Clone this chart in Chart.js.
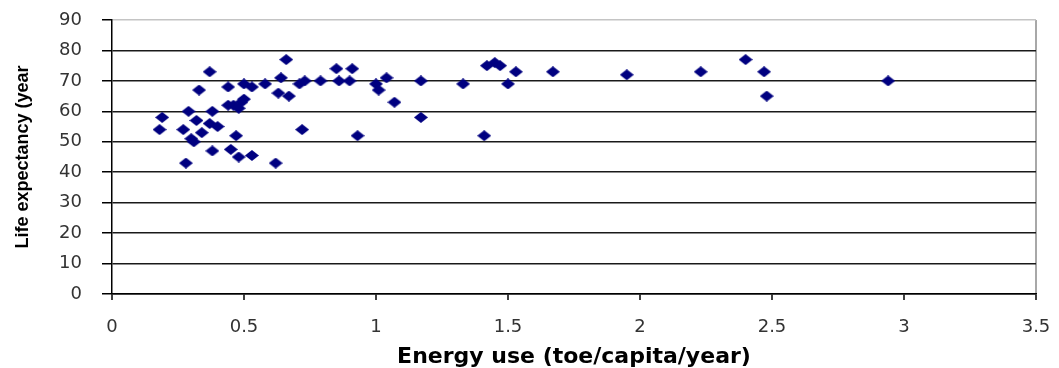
<!DOCTYPE html>
<html>
<head>
<meta charset="utf-8">
<title>Life expectancy vs energy use</title>
<script src="https://cdn.jsdelivr.net/npm/chart.js@4/dist/chart.umd.min.js"></script>
<style>
  html, body { margin: 0; padding: 0; background: #fff; }
  #wrap { width: 1059px; height: 368px; }
</style>
</head>
<body>
<div id="wrap"><canvas id="chart" width="1059" height="368"></canvas></div>
<script>
// energy use (toe/capita/year) and life expectancy (years)
const energyUse = [
  0.19, 0.18, 0.27, 0.28, 0.29, 0.32, 0.30, 0.31, 0.34, 0.33,
  0.37, 0.38, 0.37, 0.40, 0.38, 0.45, 0.47, 0.48, 0.53, 0.62,
  0.44, 0.44, 0.46, 0.48, 0.50, 0.49, 0.50, 0.53, 0.58, 0.66,
  0.64, 0.63, 0.67, 0.72, 0.71, 0.73, 0.79, 0.85, 0.86, 0.91,
  0.90, 0.93, 1.00, 1.01, 1.04, 1.07, 1.17, 1.17, 1.33, 1.41,
  1.42, 1.45, 1.47, 1.50, 1.53, 1.67, 1.95, 2.23, 2.40, 2.47,
  2.48, 2.94
];
const lifeExpectancy = [
  58, 54, 54, 43, 60, 57, 51, 50, 53, 67,
  73, 60, 56, 55, 47, 47.5, 52, 45, 45.5, 43,
  68, 62, 62, 61, 64, 63, 69, 68, 69, 77,
  71, 66, 65, 54, 69, 70, 70, 74, 70, 74,
  70, 52, 69, 67, 71, 63, 70, 58, 69, 52,
  75, 76, 75, 69, 73, 73, 72, 73, 77, 73,
  65, 70
];
const xTickLabels = ["0", "0.5", "1", "1.5", "2", "2.5", "3", "3.5"];
const yTickLabels = ["0", "10", "20", "30", "40", "50", "60", "70", "80", "90"];

const points = energyUse.map((x, i) => ({ x: x, y: lifeExpectancy[i] }));

// excel style diamond, a bit wider than tall
function makeDiamond(w, h, color) {
  const c = document.createElement("canvas");
  c.width = w;
  c.height = h;
  const g = c.getContext("2d");
  g.fillStyle = color;
  g.beginPath();
  g.moveTo(w / 2, 0);
  g.lineTo(w, h / 2);
  g.lineTo(w / 2, h);
  g.lineTo(0, h / 2);
  g.closePath();
  g.fill();
  return c;
}

const diamond = makeDiamond(14, 11, "#000080");
const tickFont = "'DejaVu Sans', Verdana, sans-serif";
const titleFont = "'Liberation Sans', Arial, sans-serif";

new Chart(document.getElementById("chart"), {
  type: "scatter",
  data: {
    datasets: [{
      label: "Countries",
      data: points,
      pointStyle: diamond,
      backgroundColor: "#000080",
      borderColor: "#000080"
    }]
  },
  options: {
    responsive: false,
    animation: false,
    layout: { padding: { left: 0, top: 20, right: 23, bottom: 0 } },
    plugins: {
      legend: { display: false },
      tooltip: { enabled: false }
    },
    scales: {
      x: {
        type: "linear",
        min: 0,
        max: 3.5,
        afterFit: (axis) => {
          axis.height = 74;
          axis.paddingLeft = 0;
          axis.paddingRight = 0;
        },
        afterBuildTicks: (axis) => {
          axis.ticks = xTickLabels.map(v => ({ value: parseFloat(v) }));
        },
        border: { display: true, color: "#000", width: 1.5 },
        grid: {
          drawOnChartArea: true,
          color: (ctx) => ctx.tick && ctx.tick.value === 3.5 ? "#a8a8a8" : "rgba(0,0,0,0)",
          lineWidth: 2,
          tickColor: "#000",
          tickLength: 6,
          tickWidth: 1.5
        },
        ticks: {
          color: "#333",
          padding: 17,
          maxRotation: 0,
          autoSkip: false,
          font: { family: tickFont, size: 18 },
          callback: (v) => xTickLabels.includes(String(v)) ? String(v) : ""
        },
        title: {
          display: true,
          text: "Energy use (toe/capita/year)",
          color: "#000",
          font: { family: tickFont, size: 22, weight: "bold", lineHeight: 1 },
          padding: { top: 0, bottom: 0 }
        }
      },
      y: {
        type: "linear",
        min: 0,
        max: 90,
        afterFit: (axis) => {
          axis.width = 112;
          axis.paddingTop = 0;
          axis.paddingBottom = 0;
        },
        afterBuildTicks: (axis) => {
          axis.ticks = yTickLabels.map(v => ({ value: parseFloat(v) }));
        },
        border: { display: true, color: "#000", width: 1.5 },
        grid: {
          color: (ctx) => ctx.tick && ctx.tick.value === 90 ? "#c4c4c4" : "#1a1a1a",
          lineWidth: 1.5,
          tickColor: "#000",
          tickLength: 10,
          tickWidth: 1.5
        },
        ticks: {
          color: "#333",
          padding: 20,
          autoSkip: false,
          font: { family: tickFont, size: 18 },
          callback: (v) => String(v)
        },
        title: {
          display: true,
          text: "Life expectancy (year",
          color: "#000",
          font: { family: titleFont, size: 18, weight: "bold" },
          padding: { top: 12, bottom: 0 }
        }
      }
    }
  }
});
</script>
</body>
</html>
